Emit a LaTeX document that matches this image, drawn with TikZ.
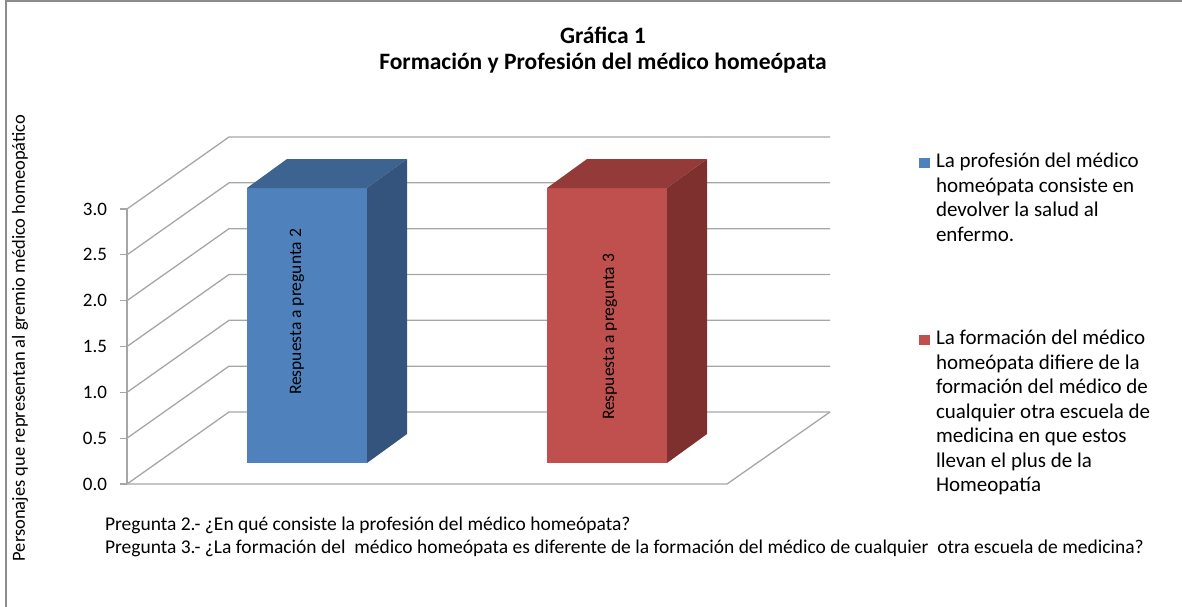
\documentclass[tikz,border=0pt]{standalone}
\usepackage{fontspec}
\setmainfont{Carlito}
\usepackage{tikz}
\usetikzlibrary{positioning}

\definecolor{rejillagris}{HTML}{A6A6A6}
\definecolor{marcogris}{HTML}{8C8C8C}
\definecolor{azulfrente}{HTML}{4F81BD}
\definecolor{azultapa}{HTML}{3D6391}
\definecolor{azullado}{HTML}{34537D}
\definecolor{rojofrente}{HTML}{C0504D}
\definecolor{rojotapa}{HTML}{943B39}
\definecolor{rojolado}{HTML}{7E302F}

\begin{document}
\begin{tikzpicture}[
			x=1pt, y=-1pt,
			every node/.style={inner sep=0pt, outer sep=0pt},
			rejilla/.style={rejillagris, line width=1.3pt},
			cuadro/.style={minimum width=11pt, minimum height=10pt},
			leyenda/.style={anchor=north west, align=left, font=\fontsize{21}{24.5}\selectfont},
			pregunta/.style={font=\fontsize{19.5}{23}\selectfont},
			declare function = {vy(\v) = 484 - 91.67*\v;}
			]

				\useasboundingbox (0,0) rectangle (1182,607);
				\draw[marcogris, line width=2pt] (6,607) -- (6,1) -- (1182,1);

				% paredes y marcas del eje
				\foreach \v/\etq in {0/0.0,0.5/0.5,1/1.0,1.5/1.5,2/2.0,2.5/2.5,3/3.0} {
					\draw[rejilla] (127,{vy(\v)}) -- (229,{vy(\v)-72}) -- (830,{vy(\v)-72});
					\draw[rejilla] (120,{vy(\v)}) -- (127,{vy(\v)});
					\node[anchor=east, font=\fontsize{19}{22}\selectfont] (tick\v) at (107,{vy(\v)}) {\etq};
				}
				\draw[rejilla] (127,{vy(0)}) -- (727,{vy(0)}) -- (830,{vy(0)-72});
				\draw[rejilla] (127,{vy(3)}) -- (127,{vy(0)});

				% barras
				\foreach \bx/\fr/\tp/\ld in {247/azulfrente/azultapa/azullado, 547/rojofrente/rojotapa/rojolado} {
					\fill[\fr] (\bx,188) rectangle (\bx+120,463);
					\fill[\tp] (\bx,188) -- (\bx+40,159) -- (\bx+160,159) -- (\bx+120,188) -- cycle;
					\fill[\ld] (\bx+120,188) -- (\bx+160,159) -- (\bx+160,434) -- (\bx+120,463) -- cycle;
				}
				\node[rotate=90, font=\fontsize{17.5}{20}\selectfont] (resp2) at (297,312) {Respuesta a pregunta 2};
				\node[rotate=90, font=\fontsize{17.5}{20}\selectfont] (resp3) at (610,337) {Respuesta a pregunta 3};

				% titulo y ejes
				\node[align=center, font=\bfseries\fontsize{23.5}{26}\selectfont] (titulo) at (603,50)
					{Gráfica 1\\Formación y Profesión del médico homeópata};
				\node[rotate=90, font=\fontsize{18.5}{21}\selectfont] (ejey) at (20,338)
					{Personajes que representan al gremio médico homeopático};

				% leyenda
				\node[cuadro, fill=azulfrente] (legazul) at (924.5,162.5) {};
				\node[leyenda] (txtazul) at (936,153)
					{La profesión del médico\\homeópata consiste en\\devolver la salud al\\enfermo.};
				\node[cuadro, fill=rojofrente] (legrojo) at (924.5,339.5) {};
				\node[leyenda] (txtrojo) at (936,330)
					{La formación del médico\\homeópata difiere de la\\formación del médico de\\cualquier otra escuela de\\medicina en que estos\\llevan el plus de la\\Homeopatía};

				% preguntas
				\node[pregunta, anchor=base west] (preg2) at (105,530)
					{Pregunta 2.- ¿En qué consiste la profesión del médico homeópata?};
				\node[pregunta, below=23pt of preg2.base west, anchor=base west] (preg3)
					{Pregunta 3.- ¿La formación del \ médico homeópata es diferente de la formación del médico de cualquier \ otra escuela de medicina?};

			\end{tikzpicture}
\end{document}
